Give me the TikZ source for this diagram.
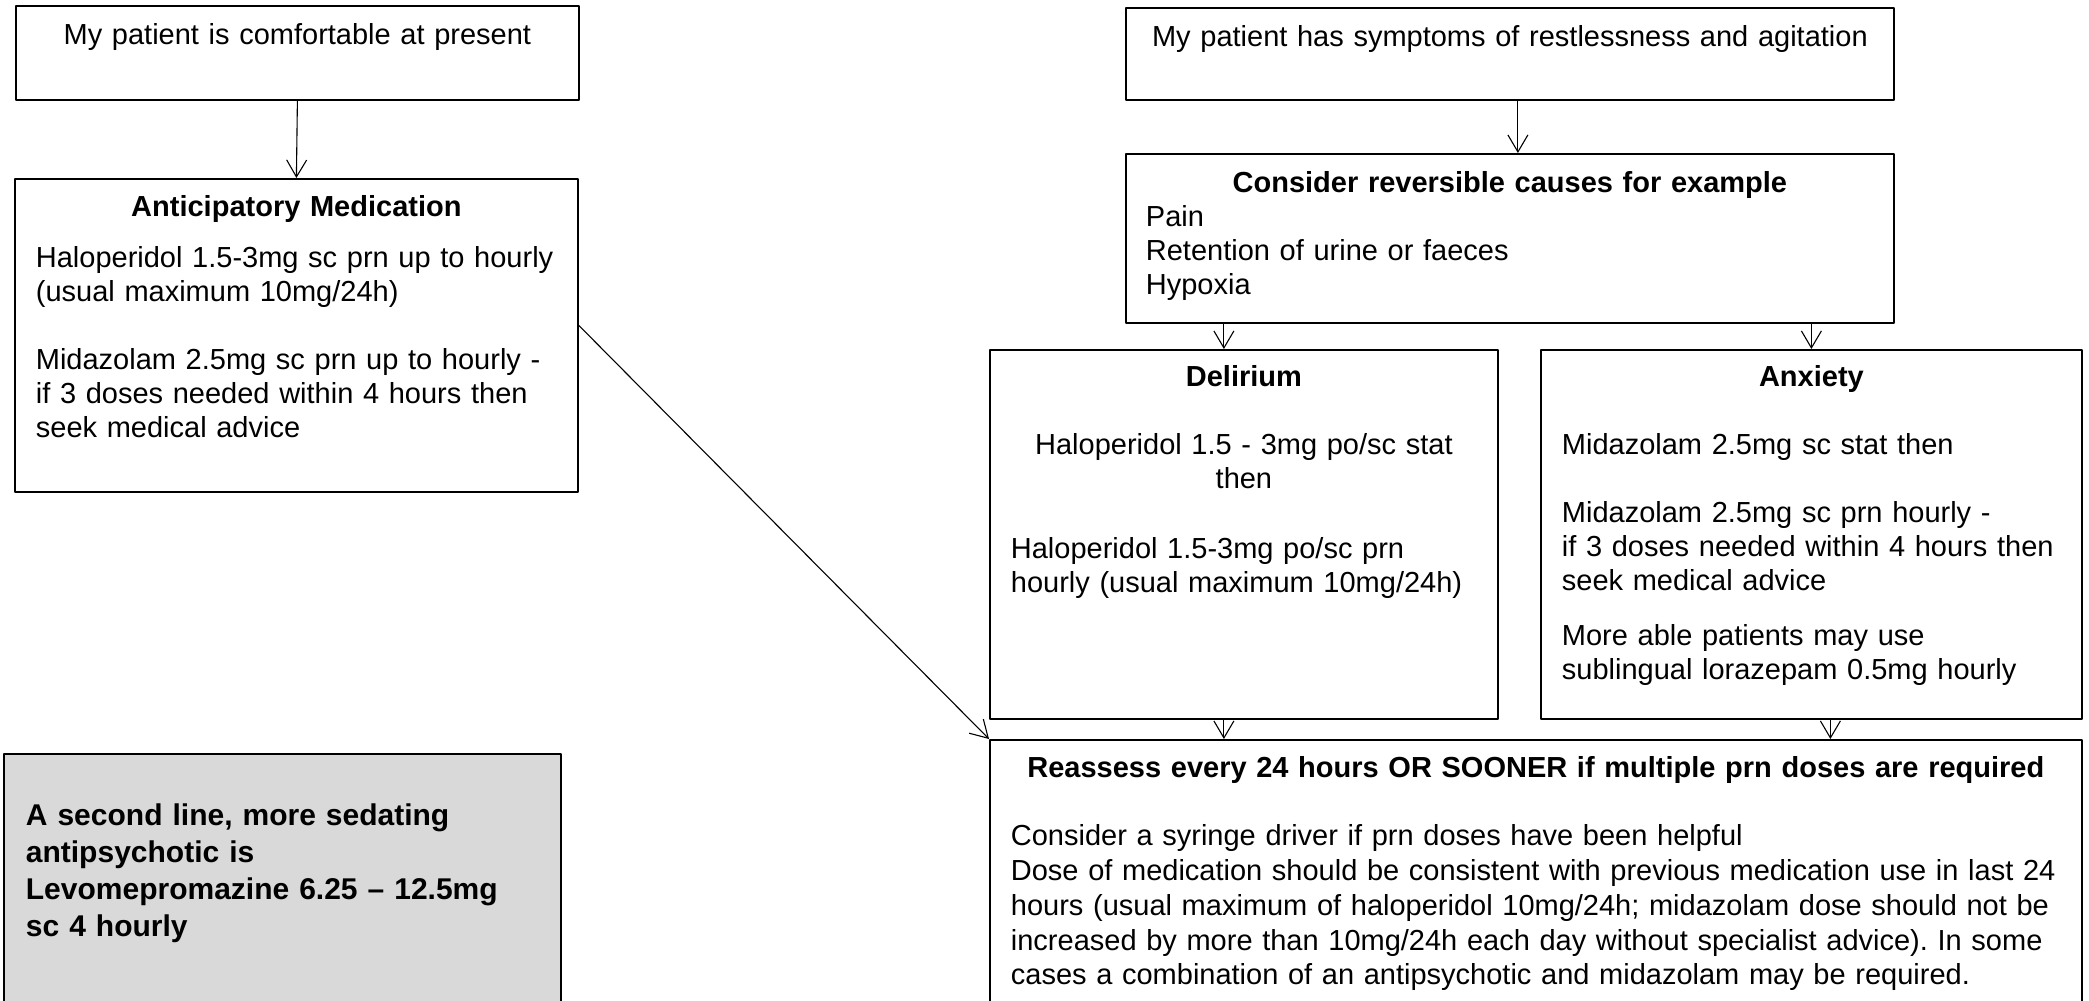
\documentclass[tikz,border=0pt]{standalone}
\usepackage{fontspec}
\setmainfont{Liberation Sans}
\usetikzlibrary{arrows.meta}
\definecolor{boxgrey}{HTML}{D9D9D9}
\frenchspacing

\begin{document}
\begin{tikzpicture}[line cap=round,line join=round,>={Straight Barb[length=8.5pt,width=10pt]},x=0.5pt,y=-0.5pt,
    box/.style={draw,line width=0.9pt,anchor=north west,inner xsep=10.5pt,inner ysep=0pt,font=\fontsize{14.5}{17}\selectfont},
    arr/.style={->,line width=0.55pt}]
    \useasboundingbox (0,0) rectangle (2089,1001);
    \clip (0,0) rectangle (2089,1001);
    % left column
    \node[box,align=center,text width=260.5pt,text height=19.5pt,text depth=27.5pt] (comfort) at (15,5)
      {My patient is comfortable at present};
    \node[box,align=left,text width=260.5pt,text height=19pt,text depth=137.5pt] (antic) at (14,178)
      {\makebox[\linewidth]{\bfseries Anticipatory Medication}\\[8.5pt]
       Haloperidol 1.5-3mg sc prn up to hourly\\
       (usual maximum 10mg/24h)\\[17pt]
       Midazolam 2.5mg sc prn up to hourly -\\
       if 3 doses needed within 4 hours then\\
       seek medical advice};
    \node[box,fill=boxgrey,align=left,inner xsep=11pt,text width=256.5pt,text height=36pt,text depth=92.5pt,
      font=\fontsize{15}{18.5}\selectfont\bfseries] (second) at (3,753)
      {A second line, more sedating\\
       antipsychotic is\\
       Levomepromazine 6.25 -- 12.5mg\\
       sc 4 hourly};
    % right column
    \node[box,align=center,text width=363pt,text height=19.5pt,text depth=26.5pt] (restless) at (1125,7)
      {My patient has symptoms of restlessness and agitation};
    \node[box,align=left,inner xsep=10pt,text width=364pt,text height=19.5pt,text depth=65pt] (causes) at (1125,153)
      {\makebox[\linewidth]{\bfseries Consider reversible causes for example}\\
       Pain\\
       Retention of urine or faeces\\
       Hypoxia};
    \node[box,align=left,text width=233pt,text height=18.5pt,text depth=166pt] (delirium) at (989,349)
      {\makebox[\linewidth]{\bfseries Delirium}\\[17pt]
       \makebox[\linewidth]{Haloperidol 1.5 - 3mg po/sc stat}\\
       \makebox[\linewidth]{then}\\[18pt]
       Haloperidol 1.5-3mg po/sc prn\\
       hourly (usual maximum 10mg/24h)};
    \node[box,align=left,text width=249.5pt,text height=18.5pt,text depth=166pt] (anxiety) at (1540,349)
      {\makebox[\linewidth]{\bfseries Anxiety}\\[17pt]
       Midazolam 2.5mg sc stat then\\[17pt]
       Midazolam 2.5mg sc prn hourly -\\
       if 3 doses needed within 4 hours then\\
       seek medical advice\\[10.5pt]
       More able patients may use\\
       sublingual lorazepam 0.5mg hourly};
    \node[box,align=left,text width=525pt,text height=19pt,text depth=116.5pt,
      font=\fontsize{14.5}{17.4}\selectfont] (reassess) at (989,739)
      {\makebox[\linewidth]{\bfseries Reassess every 24 hours OR SOONER if multiple prn doses are required}\\[16.5pt]
       Consider a syringe driver if prn doses have been helpful\\
       Dose of medication should be consistent with previous medication use in last 24\\
       hours (usual maximum of haloperidol 10mg/24h; midazolam dose should not be\\
       increased by more than 10mg/24h each day without specialist advice). In some\\
       cases a combination of an antipsychotic and midazolam may be required.};
    % connectors
    \coordinate (din) at ([xshift=-10pt]delirium.north);
    \coordinate (dout) at ([xshift=-10pt]delirium.south);
    \coordinate (aout) at ([xshift=9.5pt]anxiety.south);
    \draw[arr] (comfort.south) -- (antic.north);
    \draw[arr] ([xshift=4pt]restless.south) -- ([xshift=4pt]causes.north);
    \draw[arr] (causes.south -| din) -- (din);
    \draw[arr] (causes.south -| anxiety.north) -- (anxiety.north);
    \draw[arr] (dout) -- (reassess.north -| dout);
    \draw[arr] (aout) -- (reassess.north -| aout);
    \draw[arr] ([yshift=5pt]antic.east) -- (reassess.north west);
\end{tikzpicture}
\end{document}
